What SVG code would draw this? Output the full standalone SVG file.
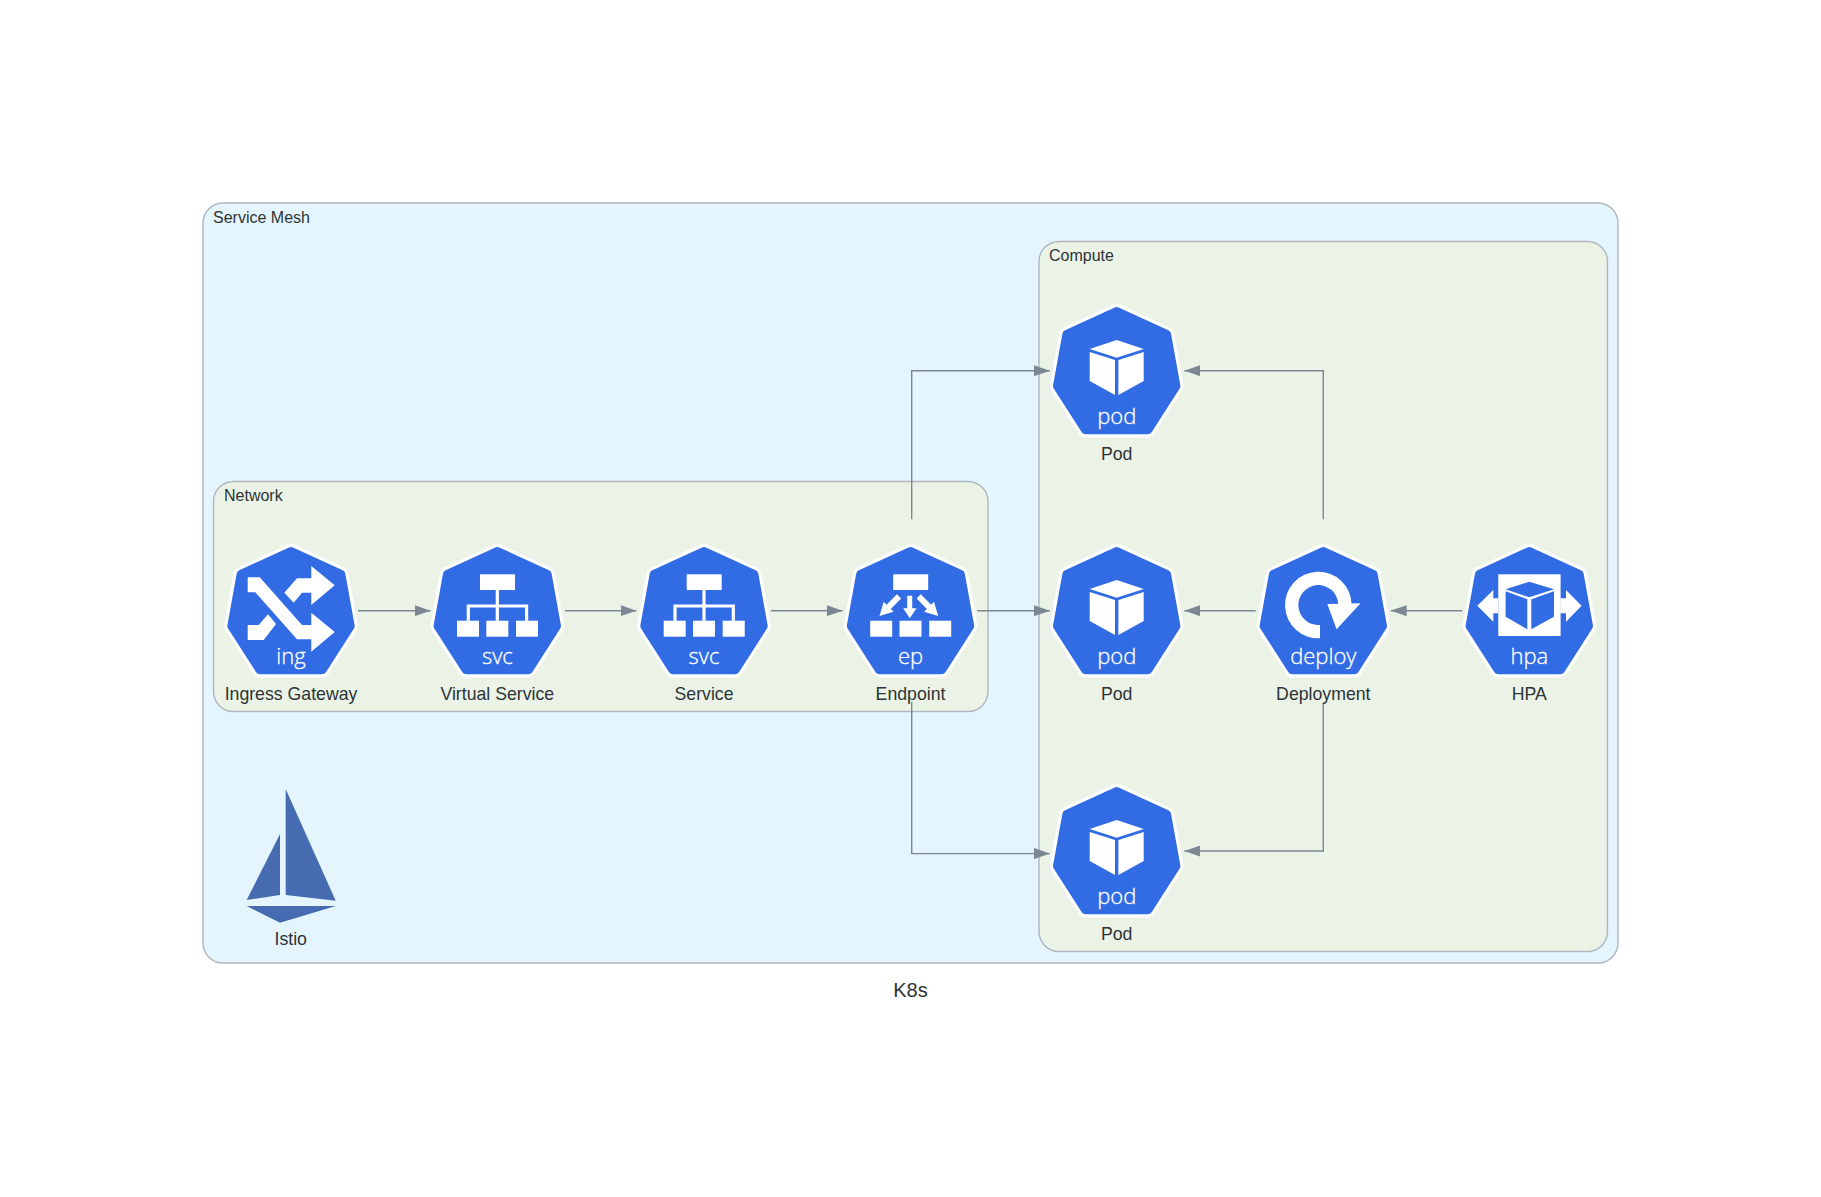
<svg xmlns="http://www.w3.org/2000/svg" width="1821" height="1197" viewBox="0 0 1821 1197">
<style>
text{font-family:"Liberation Sans",Arial,sans-serif;fill:#2d3436}
.lbl{font-size:17.7px;text-anchor:middle}
.cl{font-size:16px}
.ico{font-family:"Open Sans","Noto Sans",sans-serif;font-size:22px;font-weight:300;fill:#fff;stroke:#fff;stroke-width:0.3;text-anchor:middle}
.outer{fill:#e5f5fd;stroke:#aeb6be;stroke-width:1.4}
.inner{fill:#ebf3e7;stroke:#aeb6be;stroke-width:1.4}
.w{fill:#fff}
.b{fill:#326ce5}
.hw{fill:#fff;stroke:#fff;stroke-width:15.6;stroke-linejoin:round}
.hb{fill:#326ce5;stroke:#326ce5;stroke-width:9.4;stroke-linejoin:round}
.e{fill:none;stroke:#7b8894;stroke-width:1.4;marker-end:url(#ah)}
</style>
<defs>
<marker id="ah" markerUnits="userSpaceOnUse" markerWidth="16" markerHeight="11" refX="16" refY="5.5" orient="auto"><path d="M0 0L16 5.5L0 11z" fill="#7b8894"/></marker>
<g id="hex">
<polygon class="hw" points="0,7.7 49.7,30.5 59,82 31,125.6 -31,125.6 -59,82 -49.7,30.5"/>
<polygon class="hb" points="0,7.7 49.7,30.5 59,82 31,125.6 -31,125.6 -59,82 -49.7,30.5"/>
</g>
<g id="cube" class="w">
<polygon points="0,36 27,45 0,53.7 -27,45"/>
<polygon points="-27,48 -1.7,56 -1.7,91 -27,77"/>
<polygon points="1.7,56 27,48 27,77 1.7,91"/>
</g>
<g id="tree-boxes" class="w">
<rect x="-17.3" y="30.3" width="35" height="15.7"/>
<rect x="-40.3" y="76.7" width="22" height="16"/>
<rect x="-11" y="76.7" width="22" height="16"/>
<rect x="18.7" y="76.7" width="22" height="16"/>
</g>
<g id="pod-icon"><use href="#hex"/><use href="#cube"/><text class="ico" x="0" y="120">pod</text></g>
<g id="svc-icon"><use href="#hex"/><use href="#tree-boxes"/><path d="M0 46V76.7M-29 76.7V62H29.3V76.7" fill="none" stroke="#fff" stroke-width="3.2"/><text class="ico" x="0" y="120">svc</text></g>
</defs>
<rect width="1821" height="1197" fill="#fff"/>
<g id="clusters">
<rect class="outer" x="203" y="203" width="1415" height="760" rx="20"/>
<text class="cl" x="213" y="223">Service Mesh</text>
<rect class="inner" x="213.5" y="481.5" width="774.5" height="230" rx="20"/>
<text class="cl" x="224" y="501">Network</text>
<rect class="inner" x="1039" y="241.5" width="568.5" height="710" rx="20"/>
<text class="cl" x="1049" y="261">Compute</text>
</g>
<g id="connectors">
<path class="e" d="M358 610.7H430.7"/>
<path class="e" d="M565 610.7H636.5"/>
<path class="e" d="M771 610.7H842.7"/>
<path class="e" d="M977.3 610.7H1050"/>
<path class="e" d="M1255.7 610.7H1184.3"/>
<path class="e" d="M1462.3 610.7H1390.7"/>
<path class="e" d="M911.7 519.3V370.7H1050"/>
<path class="e" d="M911.7 701.7V853.6H1050"/>
<path class="e" d="M1323.3 519.3V370.7H1184.3"/>
<path class="e" d="M1323.3 702.7V851H1184.3"/>
</g>
<g id="ingress" transform="translate(291 544)">
<use href="#hex"/>
<g class="w">
<polygon points="-43.3,33.3 -31.3,33.3 11,81 20.3,81 20.3,68.7 43.7,88 20.3,107.7 20.3,95.3 6,95.3 -35.7,48.3 -43.3,48.3"/>
<polygon points="20.3,22 43.7,41.3 20.3,61 20.3,48.7 11,48.7 2.7,58.7 -6.7,48.7 6,34.3 20.3,34.3"/>
<polygon points="-43.3,81 -32.3,81 -23,70.3 -15,80 -27.3,96 -43.3,96"/>
</g>
<text class="ico" x="0" y="120">ing</text>
<text class="lbl" x="0" y="156">Ingress Gateway</text>
</g>
<g id="virtual-service" transform="translate(497.3 544)"><use href="#svc-icon"/><text class="lbl" x="0" y="156">Virtual Service</text></g>
<g id="service" transform="translate(704 544)"><use href="#svc-icon"/><text class="lbl" x="0" y="156">Service</text></g>
<g id="endpoint" transform="translate(910.5 544)">
<use href="#hex"/><use href="#tree-boxes"/>
<g class="w">
<polygon points="-3.3,51.7 1.7,51.7 1.7,64.3 6,64.3 -0.7,74.3 -7.3,64.3 -3.3,64.3"/>
<polygon points="-13.6,50.3 -9.4,54.5 -19.7,64.9 -16.8,67.8 -31,72 -26.8,57.8 -23.9,60.7"/>
<polygon points="10.3,50.3 6.1,54.5 16.4,64.9 13.5,67.8 27.7,72 23.5,57.8 20.6,60.7"/>
</g>
<text class="ico" x="0" y="120">ep</text>
<text class="lbl" x="0" y="156">Endpoint</text>
</g>
<g id="pod1" transform="translate(1116.7 304)"><use href="#pod-icon"/><text class="lbl" x="0" y="156">Pod</text></g>
<g id="pod2" transform="translate(1116.7 544)"><use href="#pod-icon"/><text class="lbl" x="0" y="156">Pod</text></g>
<g id="pod3" transform="translate(1116.7 784)"><use href="#pod-icon"/><text class="lbl" x="0" y="156">Pod</text></g>
<g id="deployment" transform="translate(1323.3 544)">
<use href="#hex"/>
<path class="w" d="M-3.3 94.3A33.3 33.3 0 1 1 28.3 60L15 60A20 20 0 1 0 -3.3 81Z"/>
<polygon class="w" points="4,60 37.3,59.3 13.3,85.3"/>
<text class="ico" x="0" y="120">deploy</text>
<text class="lbl" x="0" y="156">Deployment</text>
</g>
<g id="hpa" transform="translate(1529.3 544)">
<use href="#hex"/>
<g class="w">
<rect x="-31" y="30.3" width="62.3" height="61.7"/>
<polygon points="-52,61.7 -36,46 -36,54.3 -31,54.3 -31,69.3 -36,69.3 -36,77.7"/>
<polygon points="52.3,61.7 36.7,46 36.7,54.3 31,54.3 31,69.3 36.7,69.3 36.7,77.7"/>
</g>
<g class="b">
<polygon points="0,37.7 24.7,45.3 0,53.3 -23.7,45.3"/>
<polygon points="-23.7,47.3 -2,55.3 -2,85.3 -23.7,72.7"/>
<polygon points="2,55.3 24.7,47.3 24.7,72.7 2,85.3"/>
</g>
<text class="ico" x="0" y="120">hpa</text>
<text class="lbl" x="0" y="156">HPA</text>
</g>
<g id="istio">
<g fill="#466bb0">
<polygon points="285.7,789 335.7,900.7 285.7,895"/>
<polygon points="280,834 280,895 246.7,900"/>
<polygon points="246.7,906 335.7,906 280,922.7"/>
</g>
<text class="lbl" x="290.7" y="945">Istio</text>
</g>
<text id="title" x="910.5" y="997" font-size="20" text-anchor="middle">K8s</text>
</svg>
